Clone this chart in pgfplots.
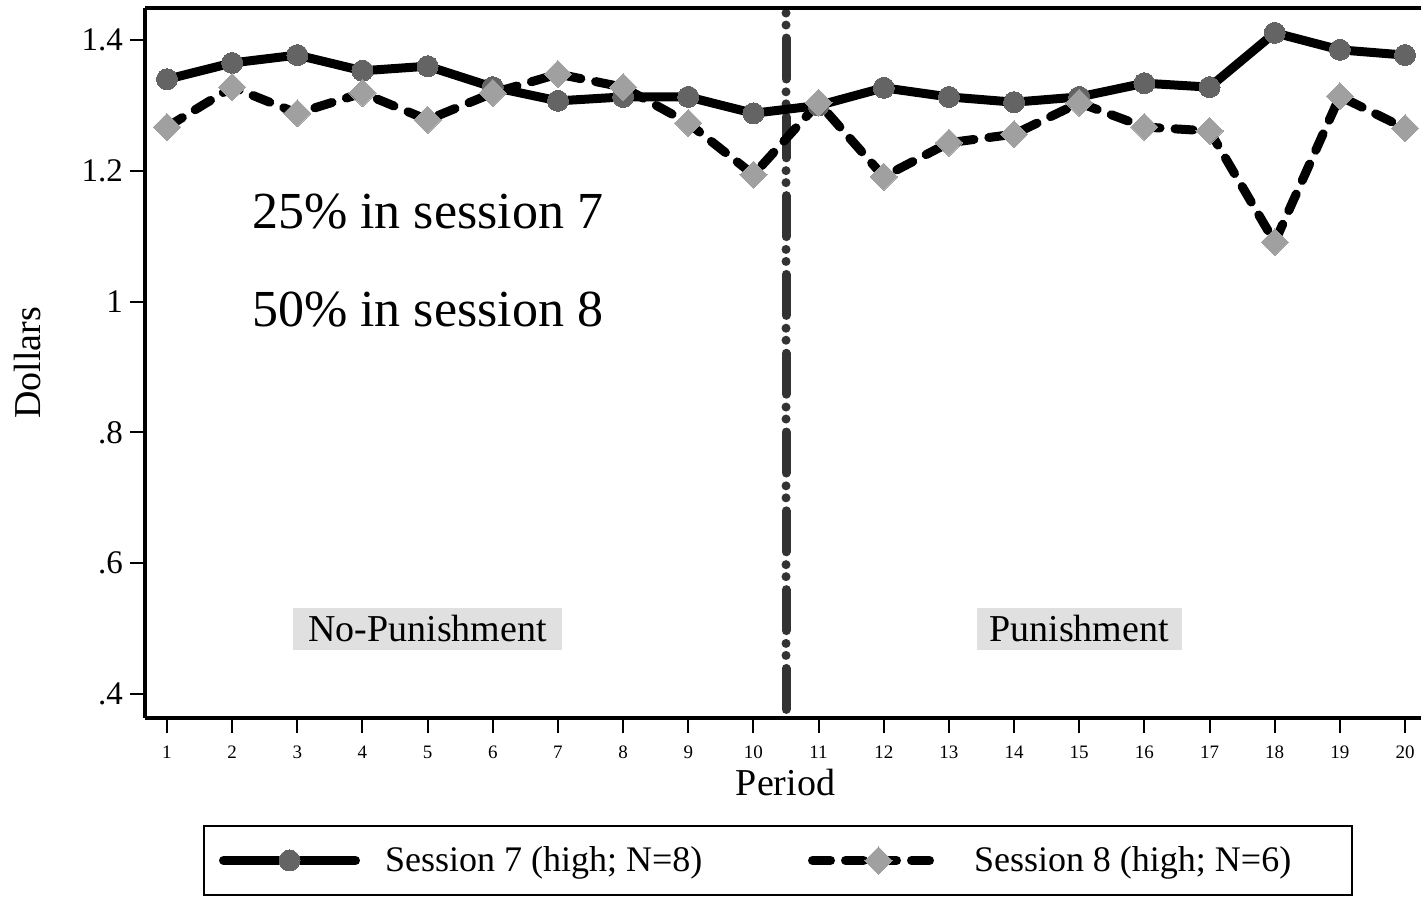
\documentclass[border=0pt]{standalone}
\usepackage{fontspec}
\setmainfont{Liberation Serif}
\usepackage{pgfplots}
\pgfplotsset{compat=1.18}

\definecolor{mark7}{RGB}{100,100,100}
\definecolor{mark8}{RGB}{160,160,160}
\definecolor{vline}{RGB}{51,51,51}
\definecolor{boxgray}{RGB}{224,224,224}

\begin{document}
\begin{tikzpicture}
\begin{axis}[
  at={(0pt,0pt)}, anchor=south west,
  scale only axis, width=638pt, height=355pt,
  xmin=0.6624, xmax=20.245, ymin=0.3633, ymax=1.449,
  clip=false,
  axis x line*=bottom, axis y line*=left,
  axis line style={line width=2pt, -},
  xtick={1,...,20},
  ytick={0.4,0.6,0.8,1,1.2,1.4},
  yticklabels={.4,.6,.8,1,1.2,1.4},
  tick align=outside, major tick length=7.5pt,
  every tick/.style={black, line width=1pt},
  /pgf/number format/assume math mode=true,
  xticklabel style={font=\fontsize{9.5}{10}\selectfont, yshift=-3pt},
  yticklabel style={font=\fontsize{16.5}{18}\selectfont},
  xlabel={Period}, ylabel={Dollars},
  every axis x label/.style={at={(axis description cs:0.502,0)}, yshift=-38.5pt, anchor=base, font=\fontsize{19}{20}\selectfont},
  every axis y label/.style={at={(axis description cs:0,0.5)}, xshift=-52pt, rotate=90, anchor=base, font=\fontsize{19}{20}\selectfont},
  legend columns=2,
  legend style={at={(0.4961,-0.1507)}, anchor=north, draw=black, line width=1pt,
    inner xsep=7.5pt, inner ysep=10.25pt, font=\fontsize{18}{20}\selectfont,
    nodes={inner sep=0pt, anchor=west},
    /tikz/every odd column/.append style={column sep=12.5pt},
    /tikz/every even column/.append style={column sep=0pt}},
  legend image code/.code={%
    \draw[mark repeat=2,mark phase=2,#1] plot coordinates {(0pt,0pt) (33pt,0pt) (66pt,0pt)};%
  },
]
% divider between the two treatments
\addplot[forget plot, color=vline, line width=4.5pt, line cap=round,
  dash pattern=on 0pt off 6pt on 0pt off 6.5pt on 20.5pt off 6.4pt]
  coordinates {(10.5,1.4413) (10.5,0.3633)};

\addplot[black, line width=4.5pt, line join=round, line cap=round,
  mark=*, mark size=5.25pt, mark options={fill=mark7, draw=mark7, line width=0pt, solid}]
  coordinates {
  (1,1.340) (2,1.365) (3,1.377) (4,1.353) (5,1.360)
  (6,1.328) (7,1.307) (8,1.313) (9,1.313) (10,1.288)
  (11,1.300) (12,1.327) (13,1.313) (14,1.305) (15,1.313)
  (16,1.334) (17,1.328) (18,1.411) (19,1.385) (20,1.377)
  };
\addlegendentry{\makebox[211.5pt][l]{Session 7 (high; N=8)}}

\addplot[black, line width=4.5pt, line join=round, line cap=round,
  dash pattern=on 9pt off 7.5pt,
  mark=square*, mark size=4.8pt, mark options={rotate=45, fill=mark8, draw=mark8, line width=0pt, solid}]
  coordinates {
  (1,1.267) (2,1.328) (3,1.288) (4,1.319) (5,1.278)
  (6,1.319) (7,1.348) (8,1.328) (9,1.273) (10,1.194)
  (11,1.304) (12,1.191) (13,1.243) (14,1.256) (15,1.304)
  (16,1.267) (17,1.261) (18,1.091) (19,1.314) (20,1.265)
  };
\addlegendentry{\makebox[181.5pt][l]{Session 8 (high; N=6)}}

\draw[line width=2pt] (rel axis cs:0,1) -- (rel axis cs:1,1);

\node[anchor=base, font=\fontsize{26}{30}\selectfont] at (axis cs:5,1.1125) {25\% in session 7};
\node[anchor=base, font=\fontsize{26}{30}\selectfont] at (axis cs:5,0.9627) {50\% in session 8};
\node[fill=boxgray, minimum width=134.5pt, minimum height=21pt, inner sep=0pt,
  font=\fontsize{19}{20}\selectfont] at (axis cs:5,0.5) {No-Punishment};
\node[fill=boxgray, minimum width=102.5pt, minimum height=21pt, inner sep=0pt,
  font=\fontsize{19}{20}\selectfont] at (axis cs:15,0.5) {Punishment};
\end{axis}
\pgfresetboundingbox
\path[use as bounding box] (-72.5pt,-91.5pt) rectangle (638pt,359pt);
\end{tikzpicture}
\end{document}
